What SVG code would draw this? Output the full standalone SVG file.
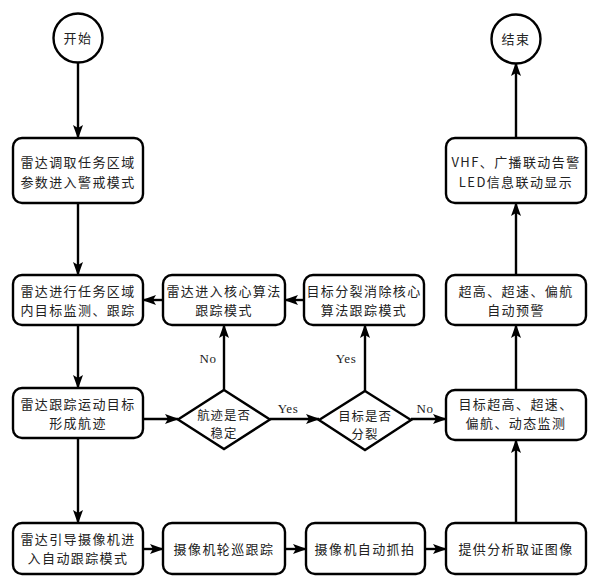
<svg xmlns="http://www.w3.org/2000/svg" width="594" height="579" viewBox="0 0 594 579">
<defs>
<marker id="ah" markerUnits="userSpaceOnUse" markerWidth="14" markerHeight="10" refX="13" refY="5" orient="auto">
<path d="M0,0 L14,5 L0,10 L3,5 Z" fill="#000"/>
</marker>
<style>
.n rect,.n circle,.n polygon{fill:#fff;stroke:#000;stroke-width:2.4}
.n text{font-family:"Noto Sans CJK SC","Noto Sans",sans-serif;font-size:13px;fill:#222;text-anchor:middle;letter-spacing:1.4px}
.n text.d{font-size:12.4px;letter-spacing:1px}
#edges line{stroke:#000;stroke-width:2.4;fill:none;marker-end:url(#ah)}
.lb{font-family:"Liberation Serif",serif;font-size:13px;fill:#222;text-anchor:middle;letter-spacing:0.5px}
</style>
</defs>
<rect width="594" height="579" fill="#fff"/>
<g id="edges">
<line x1="78" y1="63" x2="78" y2="138"/>
<line x1="78" y1="203" x2="78" y2="275"/>
<line x1="78" y1="325" x2="78" y2="388"/>
<line x1="78" y1="438" x2="78" y2="523"/>
<line x1="143" y1="419" x2="178" y2="419"/>
<line x1="270" y1="419" x2="319" y2="419"/>
<line x1="224" y1="390" x2="224" y2="325"/>
<line x1="365" y1="391" x2="365" y2="325"/>
<line x1="411" y1="419" x2="446" y2="419"/>
<line x1="304" y1="300" x2="285" y2="300"/>
<line x1="163" y1="300" x2="143" y2="300"/>
<line x1="143" y1="549" x2="163" y2="549"/>
<line x1="285" y1="549" x2="306" y2="549"/>
<line x1="425" y1="549" x2="446" y2="549"/>
<line x1="516" y1="523" x2="516" y2="440"/>
<line x1="516" y1="390" x2="516" y2="325"/>
<line x1="516" y1="275" x2="516" y2="203"/>
<line x1="516" y1="138" x2="516" y2="63"/>
</g>
<text class="lb" x="208" y="363">No</text>
<text class="lb" x="288" y="413">Yes</text>
<text class="lb" x="346" y="363">Yes</text>
<text class="lb" x="425" y="413">No</text>
<g id="start" class="n"><circle cx="78" cy="38" r="24.5"/><text x="78" y="43">开始</text></g>
<g id="end" class="n"><circle cx="516" cy="39" r="24.5"/><text x="516" y="44">结束</text></g>
<g id="radar-load" class="n"><rect x="13" y="138" width="130" height="65" rx="9"/><text x="78" y="167">雷达调取任务区域<tspan x="78" dy="19.5">参数进入警戒模式</tspan></text></g>
<g id="radar-monitor" class="n"><rect x="13" y="275" width="130" height="50" rx="9"/><text x="78" y="296">雷达进行任务区域<tspan x="78" dy="19">内目标监测、跟踪</tspan></text></g>
<g id="core-alg" class="n"><rect x="163" y="275" width="122" height="50" rx="9"/><text x="224" y="296">雷达进入核心算法<tspan x="224" dy="19">跟踪模式</tspan></text></g>
<g id="split-alg" class="n"><rect x="304" y="275" width="120" height="50" rx="9"/><text x="364" y="296">目标分裂消除核心<tspan x="364" dy="19">算法跟踪模式</tspan></text></g>
<g id="warn" class="n"><rect x="446" y="275" width="140" height="50" rx="9"/><text x="516" y="296">超高、超速、偏航<tspan x="516" dy="19">自动预警</tspan></text></g>
<g id="vhf" class="n"><rect x="446" y="138" width="140" height="65" rx="9"/><text x="516" y="167">VHF、广播联动告警<tspan x="516" dy="19.5">LED信息联动显示</tspan></text></g>
<g id="radar-track" class="n"><rect x="13" y="388" width="130" height="50" rx="9"/><text x="78" y="409">雷达跟踪运动目标<tspan x="78" dy="19">形成航迹</tspan></text></g>
<g id="stable" class="n"><polygon points="224,390 270,419.5 224,449 178,419.5"/><text class="d" x="224" y="420">航迹是否<tspan x="224" dy="18">稳定</tspan></text></g>
<g id="split" class="n"><polygon points="365,391 411,420 365,450 319,420"/><text class="d" x="365" y="421">目标是否<tspan x="365" dy="18">分裂</tspan></text></g>
<g id="monitor" class="n"><rect x="446" y="390" width="140" height="50" rx="9"/><text x="516" y="409">目标超高、超速、<tspan x="516" dy="19">偏航、动态监测</tspan></text></g>
<g id="guide" class="n"><rect x="13" y="523" width="130" height="51" rx="9"/><text x="78" y="544">雷达引导摄像机进<tspan x="78" dy="19">入自动跟踪模式</tspan></text></g>
<g id="patrol" class="n"><rect x="163" y="523" width="122" height="51" rx="9"/><text x="224" y="553.5">摄像机轮巡跟踪</text></g>
<g id="snap" class="n"><rect x="306" y="523" width="119" height="51" rx="9"/><text x="365" y="553.5">摄像机自动抓拍</text></g>
<g id="evidence" class="n"><rect x="446" y="523" width="140" height="51" rx="9"/><text x="516" y="553.5">提供分析取证图像</text></g>
</svg>
